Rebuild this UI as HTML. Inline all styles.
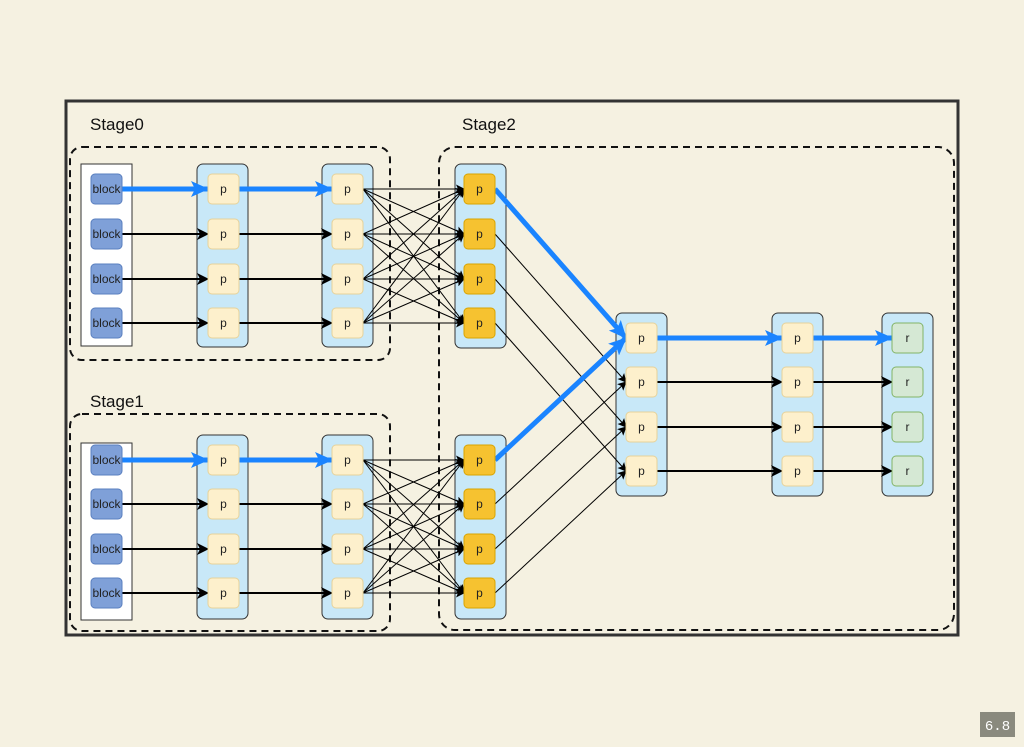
<!DOCTYPE html>
<html><head><meta charset="utf-8"><style>
html,body{margin:0;padding:0;background:#f5f1e1;}
svg{display:block}
</style></head><body>
<svg width="1024" height="747" viewBox="0 0 1024 747" font-family="'Liberation Sans',sans-serif">
<defs>
<marker id="ab" markerWidth="12" markerHeight="12" refX="11" refY="6" orient="auto" markerUnits="userSpaceOnUse"><path d="M0,0 L12,6 L0,12 L3,6z" fill="#000"/></marker>
<marker id="at" markerWidth="9" markerHeight="9" refX="8" refY="4.5" orient="auto" markerUnits="userSpaceOnUse"><path d="M0,0 L9,4.5 L0,9 L2,4.5z" fill="#000"/></marker>
<marker id="abl" markerWidth="18" markerHeight="16" refX="17" refY="8" orient="auto" markerUnits="userSpaceOnUse"><path d="M0,0 L18,8 L0,16 L4,8z" fill="#1a84ff"/></marker>
</defs>
<rect x="0" y="0" width="1024" height="747" fill="#f5f1e1"/>
<rect x="66" y="101" width="892" height="534" fill="#f5f1e1" stroke="#333" stroke-width="3"/>
<text x="90" y="130" font-size="17" fill="#111">Stage0</text>
<text x="90" y="407" font-size="17" fill="#111">Stage1</text>
<text x="462" y="130" font-size="17" fill="#111">Stage2</text>
<g fill="none" stroke="#111" stroke-width="2" stroke-dasharray="7,5">
<rect x="70" y="147" width="320" height="213" rx="12"/>
<rect x="70" y="414" width="320" height="217" rx="12"/>
<rect x="439" y="147" width="515" height="483" rx="16"/>
</g>
<script>
const s=document.querySelector('svg');const NS='http://www.w3.org/2000/svg';
function el(t,a,txt){const e=document.createElementNS(NS,t);for(const k in a)e.setAttribute(k,a[k]);if(txt)e.textContent=txt;s.appendChild(e);return e;}
const r0=[189,234,279,323],r1=[460,504,549,593],r2=[338,382,427,471];
el('rect',{x:81,y:164,width:51,height:182,fill:'#fff',stroke:'#333','stroke-width':1});
el('rect',{x:81,y:443,width:51,height:177,fill:'#fff',stroke:'#333','stroke-width':1});
function cont(x,y,h){el('rect',{x:x,y:y,width:51,height:h,rx:6,fill:'#c8e8f8',stroke:'#333','stroke-width':1});}
cont(197,164,183);cont(322,164,183);cont(455,164,184);
cont(197,435,184);cont(322,435,184);cont(455,435,184);
cont(616,313,183);cont(772,313,183);cont(882,313,183);
function item(x,cy,fill,st,t,fs){el('rect',{x:x,y:cy-15,width:31,height:30,rx:4,fill:fill,stroke:st,'stroke-width':1});el('text',{x:x+15.5,y:cy+4,'font-size':fs||12,'text-anchor':'middle',fill:'#222'},t);}
function line(x1,y1,x2,y2,m,w,c){el('line',{x1:x1,y1:y1,x2:x2,y2:y2,stroke:c||'#000','stroke-width':w,'marker-end':'url(#'+m+')'});}
[r0,r1].forEach(R=>{
 R.forEach((y,i)=>{
  if(i==0){line(122,y,208,y,'abl',5,'#1a84ff');line(239,y,332,y,'abl',5,'#1a84ff');}
  else{line(122,y,208,y,'ab',2);line(239,y,332,y,'ab',2);}
  R.forEach(y2=>line(363,y,464,y2,'at',1));
 });
 R.forEach((y,i)=>{
  if(i==0) line(495,y,626,r2[0],'abl',5,'#1a84ff');
  else line(495,y,626,r2[i],'at',1);
 });
});
r2.forEach((y,i)=>{
 if(i==0){line(657,y,782,y,'abl',5,'#1a84ff');line(812,y,892,y,'abl',5,'#1a84ff');}
 else{line(657,y,782,y,'ab',2);line(812,y,892,y,'ab',2);}
});
[r0,r1].forEach(R=>R.forEach(y=>{
 item(91,y,'#7fa0d8','#5a7fbf','block',12);
 item(208,y,'#fdf0cc','#e6d29a','p');
 item(332,y,'#fdf0cc','#e6d29a','p');
 item(464,y,'#f6c230','#d9a400','p');
}));
r2.forEach(y=>{item(626,y,'#fdf0cc','#e6d29a','p');item(782,y,'#fdf0cc','#e6d29a','p');item(892,y,'#d5e8d4','#82b366','r');});
</script>
<rect x="980" y="712" width="35" height="25" fill="#8a8a7e"/>
<text x="997.5" y="730" font-size="14" fill="#fff" text-anchor="middle" font-family="'Liberation Mono',monospace">6.8</text>
</svg>
</body></html>
